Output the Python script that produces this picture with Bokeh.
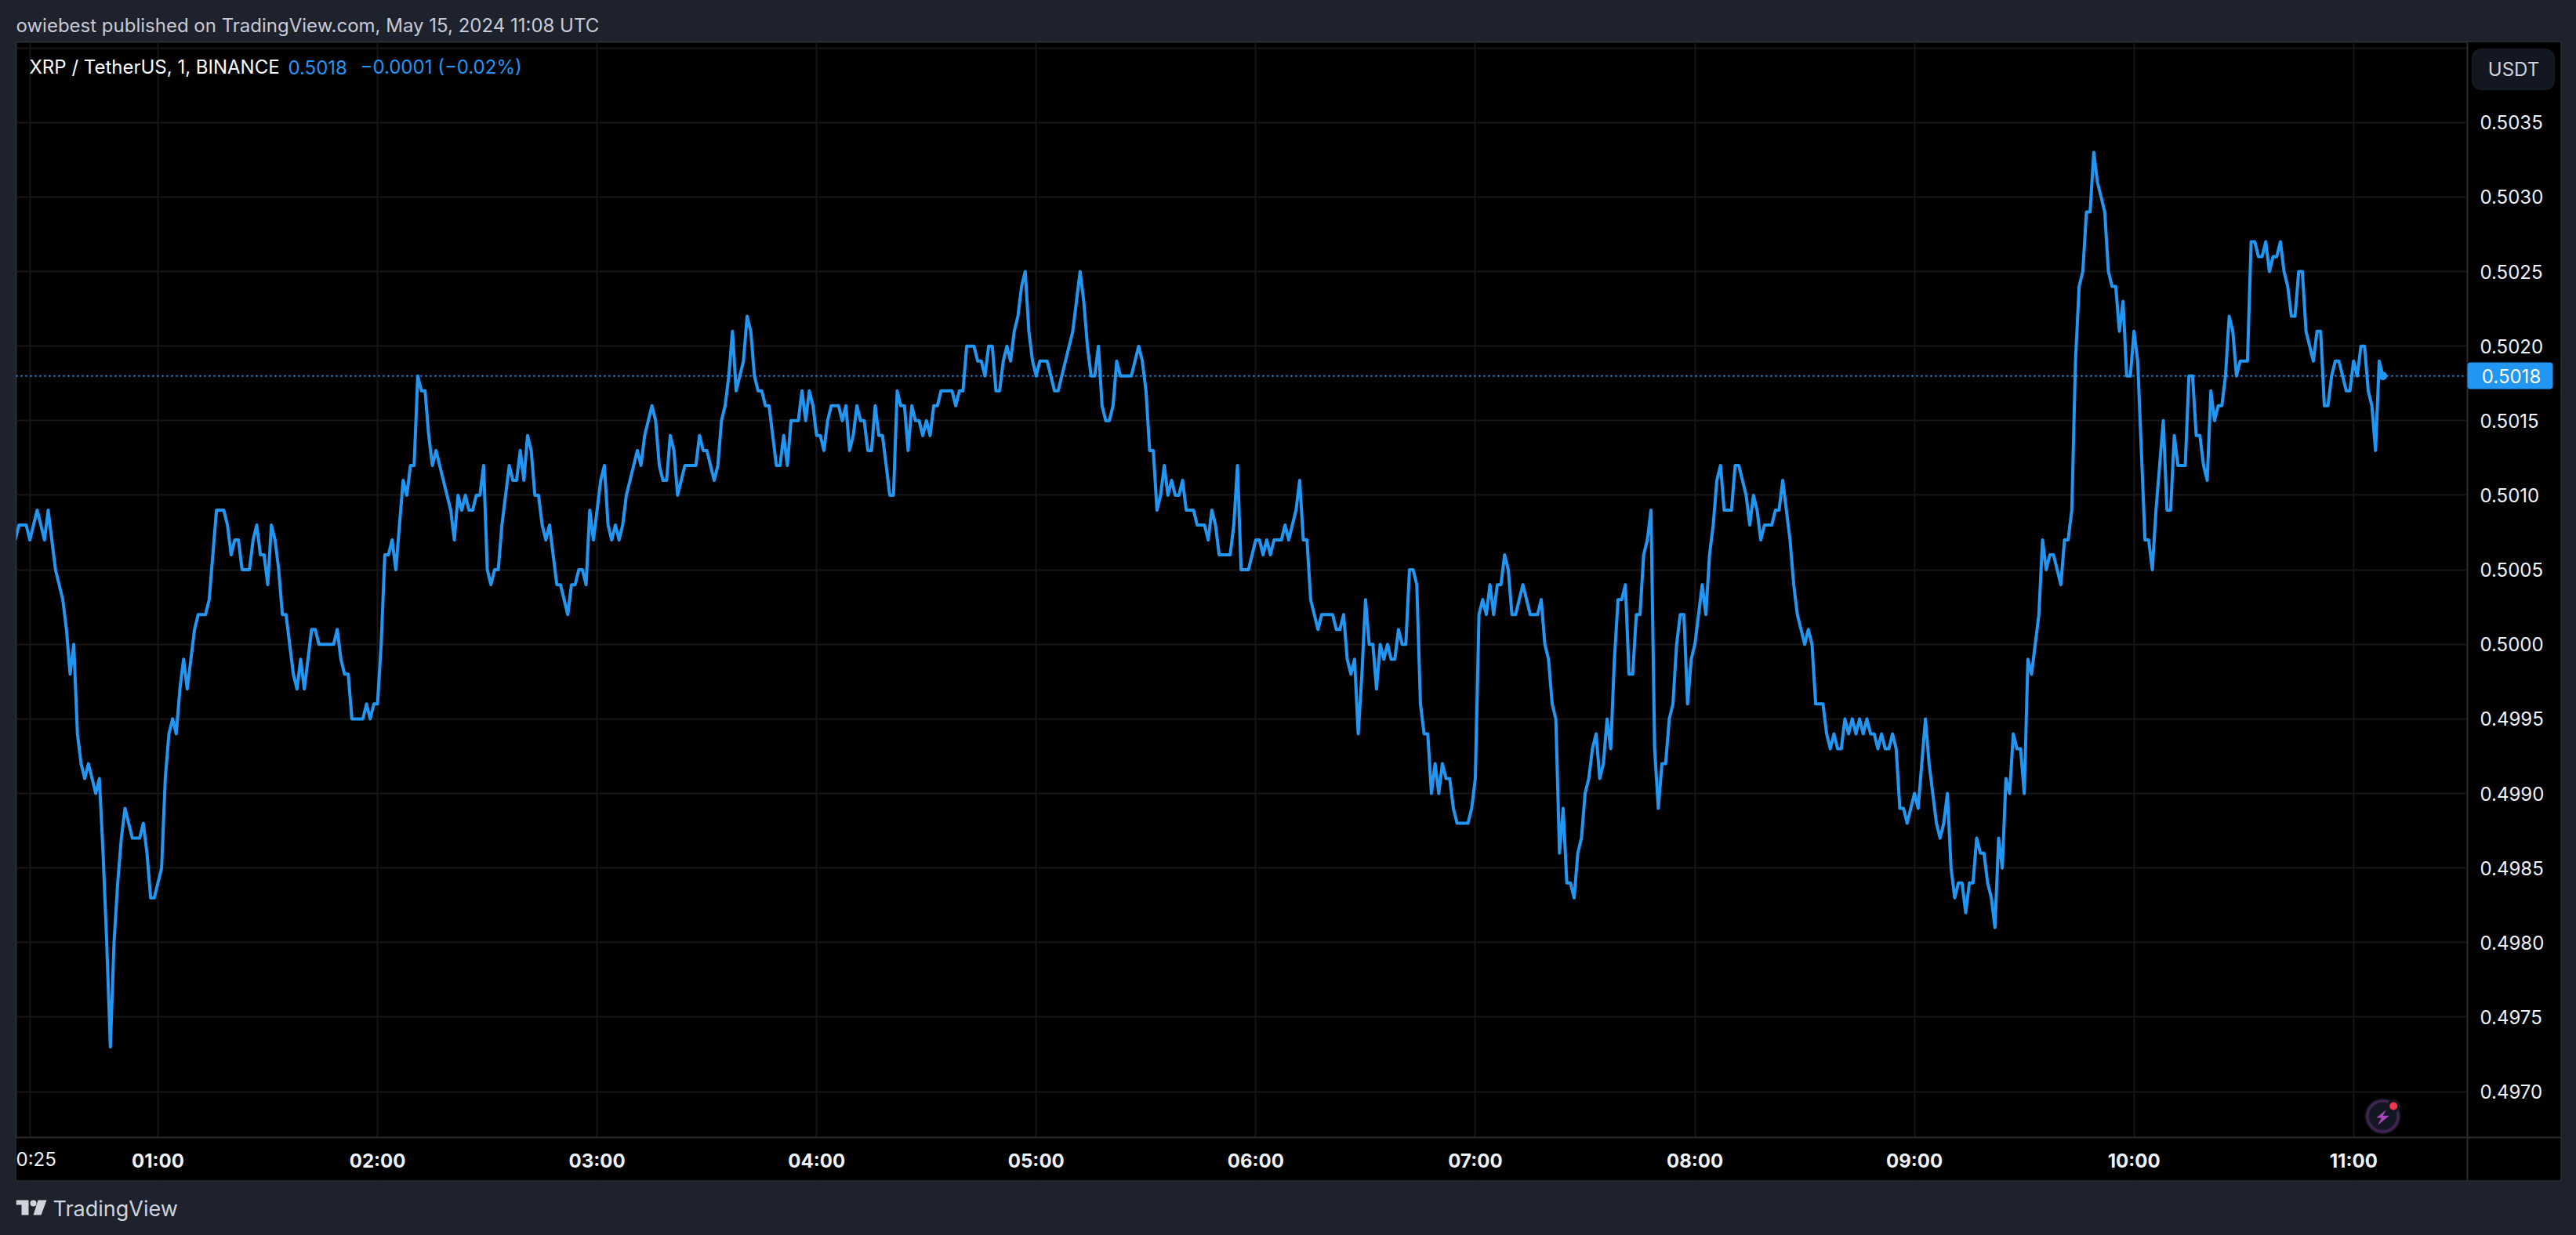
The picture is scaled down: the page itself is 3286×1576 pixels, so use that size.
from bokeh.layouts import column
from bokeh.plotting import figure
from bokeh.embed import file_html
from bokeh.resources import INLINE
from bokeh.models import (BoxAnnotation, FixedTicker, Label, NumeralTickFormatter,
                          PolyAnnotation, Range1d, Span)

# ---------- data ----------
first_minute = 21            # minutes after 00:00 of the first close (one close per minute)
closes_e4 = [
    5007,5008,5008,5008,5007,5008,5009,5008,5007,5009,
    5007,5005,5004,5003,5001,4998,5000,4994,4992,4991,
    4992,4991,4990,4991,4986,4980,4973,4980,4984,4987,
    4989,4988,4987,4987,4987,4988,4986,4983,4983,4984,
    4985,4991,4994,4995,4994,4997,4999,4997,4999,5001,
    5002,5002,5002,5003,5006,5009,5009,5009,5008,5006,
    5007,5007,5005,5005,5005,5007,5008,5006,5006,5004,
    5008,5007,5005,5002,5002,5000,4998,4997,4999,4997,
    4999,5001,5001,5000,5000,5000,5000,5000,5001,4999,
    4998,4998,4995,4995,4995,4995,4996,4995,4996,4996,
    5000,5006,5006,5007,5005,5008,5011,5010,5012,5012,
    5018,5017,5017,5014,5012,5013,5012,5011,5010,5009,
    5007,5010,5009,5010,5009,5009,5010,5010,5012,5005,
    5004,5005,5005,5008,5010,5012,5011,5011,5013,5011,
    5014,5013,5010,5010,5008,5007,5008,5006,5004,5004,
    5003,5002,5004,5004,5005,5005,5004,5009,5007,5009,
    5011,5012,5008,5007,5008,5007,5008,5010,5011,5012,
    5013,5012,5014,5015,5016,5015,5012,5011,5011,5014,
    5013,5010,5011,5012,5012,5012,5012,5014,5013,5013,
    5012,5011,5012,5015,5016,5018,5021,5017,5018,5019,
    5022,5021,5018,5017,5017,5016,5016,5014,5012,5012,
    5014,5012,5015,5015,5015,5017,5015,5017,5016,5014,
    5014,5013,5015,5016,5016,5016,5015,5016,5013,5014,
    5016,5015,5015,5013,5013,5016,5014,5014,5012,5010,
    5010,5017,5016,5016,5013,5016,5015,5015,5014,5015,
    5014,5016,5016,5017,5017,5017,5017,5016,5017,5017,
    5020,5020,5020,5019,5019,5018,5020,5020,5017,5017,
    5019,5020,5019,5021,5022,5024,5025,5021,5019,5018,
    5019,5019,5019,5018,5017,5017,5018,5019,5020,5021,
    5023,5025,5023,5020,5018,5018,5020,5016,5015,5015,
    5016,5019,5018,5018,5018,5018,5019,5020,5019,5017,
    5013,5013,5009,5010,5012,5010,5011,5010,5010,5011,
    5009,5009,5009,5008,5008,5008,5007,5009,5008,5006,
    5006,5006,5006,5008,5012,5005,5005,5005,5006,5007,
    5007,5006,5007,5006,5007,5007,5007,5008,5007,5008,
    5009,5011,5007,5007,5003,5002,5001,5002,5002,5002,
    5002,5001,5001,5002,4999,4998,4999,4994,4998,5003,
    5000,5000,4997,5000,4999,5000,4999,4999,5001,5000,
    5000,5005,5005,5004,4996,4994,4994,4990,4992,4990,
    4992,4991,4991,4989,4988,4988,4988,4988,4989,4991,
    5002,5003,5002,5004,5002,5004,5004,5006,5005,5002,
    5002,5003,5004,5003,5002,5002,5002,5003,5000,4999,
    4996,4995,4986,4989,4984,4984,4983,4986,4987,4990,
    4991,4993,4994,4991,4992,4995,4993,4999,5003,5003,
    5004,4998,4998,5002,5002,5006,5007,5009,4993,4989,
    4992,4992,4995,4996,5000,5002,5002,4996,4999,5000,
    5002,5004,5002,5006,5008,5011,5012,5009,5009,5009,
    5012,5012,5011,5010,5008,5010,5009,5007,5008,5008,
    5008,5009,5009,5011,5009,5007,5004,5002,5001,5000,
    5001,5000,4996,4996,4996,4994,4993,4994,4993,4993,
    4995,4994,4995,4994,4995,4994,4995,4994,4994,4993,
    4994,4993,4993,4994,4993,4989,4989,4988,4989,4990,
    4989,4992,4995,4992,4990,4988,4987,4988,4990,4985,
    4983,4984,4984,4982,4984,4984,4987,4986,4986,4984,
    4983,4981,4987,4985,4991,4990,4994,4993,4993,4990,
    4999,4998,5000,5002,5007,5005,5006,5006,5005,5004,
    5007,5007,5009,5019,5024,5025,5029,5029,5033,5031,
    5030,5029,5025,5024,5024,5021,5023,5018,5018,5021,
    5019,5013,5007,5007,5005,5009,5012,5015,5009,5009,
    5014,5012,5012,5012,5018,5018,5014,5014,5012,5011,
    5017,5015,5016,5016,5018,5022,5021,5018,5019,5019,
    5019,5027,5027,5026,5026,5027,5025,5026,5026,5027,
    5025,5024,5022,5022,5025,5025,5021,5020,5019,5021,
    5021,5016,5016,5018,5019,5019,5018,5017,5017,5019,
    5018,5020,5020,5017,5016,5013,5019,5018,
]
price_ticks = [0.4970, 0.4975, 0.4980, 0.4985, 0.4990, 0.4995, 0.5000, 0.5005,
               0.5010, 0.5015, 0.5020, 0.5025, 0.5030, 0.5035]
price_grid_extra = [0.5040]
hour_ticks = [60, 120, 180, 240, 300, 360, 420, 480, 540, 600, 660]
hour_labels = ["01:00", "02:00", "03:00", "04:00", "05:00", "06:00",
               "07:00", "08:00", "09:00", "10:00", "11:00"]
time_grid_extra = [25]
first_label = "0:25"
last_price = 0.5018
title_text = "owiebest published on TradingView.com, May 15, 2024 11:08 UTC"
symbol_text = "XRP / TetherUS, 1, BINANCE"
last_text = "0.5018"
change_text = "\u22120.0001 (\u22120.02%)"
currency_text = "USDT"
brand_text = "TradingView"

# ---------- style ----------
BG = "#1e222d"; FRAME = "#2a2e39"; SEP = "#2b2b2b"; GRID = "#161616"
BLUE = "#2196f3"; FONT = "Inter"
W, H = 3286, 1576
HEAD_H = 50            # strip above the chart's canvas
MAIN_B = 1509          # page y where the chart's canvas ends
FL, FT, FR, FB = 20, 53, 3266, 1506   # chart frame on the page (axis strips included)

minutes = [first_minute + i for i in range(len(closes_e4))]
prices = [c / 10000 for c in closes_e4]


def blank(height):
    f = figure(width=W, height=height, output_backend="svg", toolbar_location=None,
               x_axis_type=None, y_axis_type=None, x_range=Range1d(0, 1), y_range=Range1d(0, 1),
               min_border=0, background_fill_color=BG, border_fill_color=BG,
               outline_line_color=None)
    f.grid.visible = False
    return f


head = blank(HEAD_H)
foot = blank(H - MAIN_B)

p = figure(width=W, height=MAIN_B - HEAD_H, output_backend="svg", toolbar_location=None,
           x_range=Range1d(21.23, 716.6), y_range=Range1d(0.496404, 0.504040),
           y_axis_location="right", min_border_left=FL, min_border_top=FT - HEAD_H,
           min_border_right=W - FR, min_border_bottom=MAIN_B - FB,
           background_fill_color="#000000", border_fill_color=BG,
           outline_line_color=FRAME, outline_line_width=2)

xa, ya = p.xaxis[0], p.yaxis[0]
xa.ticker = FixedTicker(ticks=hour_ticks)
xa.major_label_overrides = dict(zip(hour_ticks, hour_labels))
ya.ticker = FixedTicker(ticks=price_ticks)
ya.formatter = NumeralTickFormatter(format="0.0000")
for a in (xa, ya):
    a.axis_line_color = None
    a.major_tick_line_color = None
    a.minor_tick_line_color = None
    a.major_tick_out = 0
    a.major_label_text_font = FONT
    a.major_label_text_font_size = "24px"
    a.major_label_text_color = "#f0f3fa"
xa.major_label_text_font_style = "bold"
xa.major_label_standoff = -40     # labels sit in the strip inside the frame
ya.major_label_standoff = -103
p.xgrid[0].ticker = FixedTicker(ticks=time_grid_extra + hour_ticks)
p.ygrid[0].ticker = FixedTicker(ticks=price_ticks + price_grid_extra)
for g in (p.xgrid[0], p.ygrid[0]):
    g.grid_line_color = GRID
    g.grid_line_width = 2


def box(f, ox, oy, x0, y0, x1, y1, fill, line=None, lw=0, radius=0, level="annotation"):
    f.add_layout(BoxAnnotation(left=x0 - ox, right=x1 - ox, top=oy - y0, bottom=oy - y1,
                               left_units="screen", right_units="screen",
                               top_units="screen", bottom_units="screen",
                               fill_color=fill, fill_alpha=1.0, line_color=line,
                               line_width=lw, border_radius=radius, level=level,
                               editable=False))


def poly(f, ox, oy, xs, ys, fill):
    f.add_layout(PolyAnnotation(xs=[x - ox for x in xs], ys=[oy - y for y in ys],
                                xs_units="screen", ys_units="screen",
                                fill_color=fill, fill_alpha=1.0, line_color=None,
                                level="annotation"))


def text(f, ox, oy, x, y, s, color, size, align="left"):
    f.add_layout(Label(x=x - ox, y=oy - y, x_units="screen", y_units="screen", text=s,
                       text_color=color, text_font=FONT, text_font_size=f"{size}px",
                       text_align=align, text_baseline="middle"))


M = (p, FL, FB)   # chart coordinates: offsets from frame left / frame bottom

# last price line under the strips
p.add_layout(Span(location=last_price, dimension="width", line_color=BLUE,
                  line_width=2, line_dash="2 4", level="underlay"))
# axis strips hide the grid, then their separators
box(*M, 3147, FT, FR, FB, "#000000", level="underlay")
box(*M, FL, 1451, 3147, FB, "#000000", level="underlay")
box(*M, 3146, FT, 3148, FB, SEP, level="underlay")
box(*M, FL, 1450, FR, 1452, SEP, level="underlay")

# series
p.line(minutes, prices, line_color=BLUE, line_width=4, line_join="round")
p.scatter(minutes[-1:], prices[-1:], size=11, marker="circle", fill_color=BLUE, line_color=None)

# texts (column() aligns the frames, so header and footer share the chart's frame left)
text(head, FL, HEAD_H, 20, 32, title_text, "#c8cad6", 24)
text(*M, 37, 85, symbol_text, "#ffffff", 24)
text(*M, 367, 85, last_text, BLUE, 24)
text(*M, 459, 85, change_text, BLUE, 24)
text(*M, 20, 1479, first_label, "#f0f3fa", 24)

# currency button
box(*M, 3153, 62, 3258, 114, "#131722", "#2a2e39", 2, radius=12)
text(*M, 3206, 88, currency_text, "#d1d4dc", 24, align="center")

# last price tag
box(*M, 3147, 462, 3256, 496, BLUE, radius=4)
text(*M, 3203, 479.5, last_text, "#ffffff", 24, align="center")

# live-status icon
box(*M, 3016, 1401, 3062, 1447, "#131722", radius=23)
box(*M, 3019.5, 1404.5, 3058.5, 1443.5, "#131722", "#ab47bc", 3.5, radius=20)
poly(*M, [3043.3, 3030.7, 3037.3, 3032.7, 3047.3, 3039.3],
     [1415.7, 1426, 1426, 1435.3, 1423.3, 1423.3], "#ab47bc")
box(*M, 3044.5, 1402.5, 3061.5, 1419.5, "#131722", radius=9)
box(*M, 3047.7, 1406, 3057.7, 1416, "#f23645", radius=5)

# brand
F = (foot, FL, H)
poly(*F, [20, 36, 36, 27, 27, 20], [1531, 1531, 1550, 1550, 1537, 1537], "#d1d4dc")
box(*F, 38, 1531, 46, 1539, "#d1d4dc", radius=4)
poly(*F, [48, 59, 52, 42], [1531, 1531, 1550, 1550], "#d1d4dc")
text(*F, 67, 1542, brand_text, "#d1d4dc", 27)

html = file_html(column(head, p, foot, spacing=0), INLINE)
html = html.replace("<head>", f"<head><style>html,body{{background:{BG};}}</style>", 1)
open("out.html", "w").write(html)
